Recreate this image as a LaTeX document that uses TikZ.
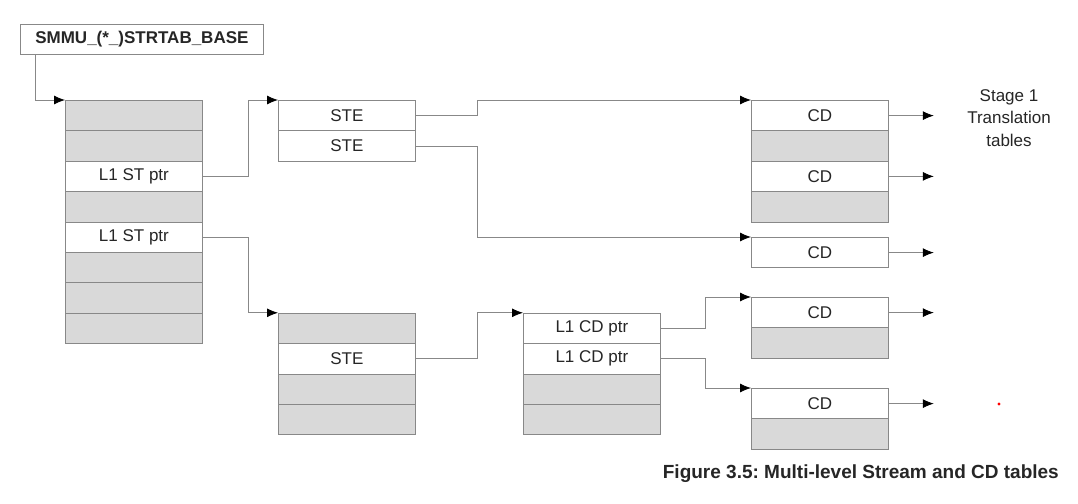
\documentclass[tikz,border=0pt]{standalone}
\usepackage{fontspec}
\setmainfont{Liberation Sans}
\usetikzlibrary{arrows.meta}
\frenchspacing
\definecolor{cellgray}{HTML}{D9D9D9}
\definecolor{edgegray}{HTML}{888888}
\definecolor{txt}{HTML}{262626}
\tikzset{
  cell/.style={draw=edgegray, line width=0.8pt, fill=white, minimum width=137pt,
    minimum height=30.4pt, inner sep=0pt, anchor=north west, text=txt,
    font=\fontsize{17}{20}\selectfont},
  gcell/.style={cell, fill=cellgray},
  link/.style={draw=edgegray, line width=0.8pt, -{Latex[length=11pt,width=9pt,color=black]}},
}
\begin{document}
\begin{tikzpicture}[x=1pt,y=-1pt]
\useasboundingbox[fill=white] (0,0) rectangle (1078,503);
% base register
\node[draw=edgegray, line width=0.8pt, minimum width=243pt, minimum height=30pt, inner sep=0pt,
  anchor=north west, text=txt, font=\bfseries\fontsize{17}{20}\selectfont] (B) at (20,24) {SMMU\_(*\_)STRTAB\_BASE};
% L1 stream table
\node[gcell] (L0) at (65,100) {};
\node[gcell] (L1) at (65,130.4) {};
\node[cell]  (L2) at (65,160.8) {L1 ST ptr};
\node[gcell] (L3) at (65,191.2) {};
\node[cell]  (L4) at (65,221.6) {L1 ST ptr};
\node[gcell] (L5) at (65,252) {};
\node[gcell] (L6) at (65,282.4) {};
\node[gcell] (L7) at (65,312.8) {};
% upper STE table
\node[cell] (S0) at (278,100) {STE};
\node[cell] (S1) at (278,130.4) {STE};
% lower STE table
\node[gcell] (T0) at (278,312.8) {};
\node[cell]  (T1) at (278,343.2) {STE};
\node[gcell] (T2) at (278,373.6) {};
\node[gcell] (T3) at (278,404) {};
% L1 CD table
\node[cell]  (C0) at (523,312.8) {L1 CD ptr};
\node[cell]  (C1) at (523,343.2) {L1 CD ptr};
\node[gcell] (C2) at (523,373.6) {};
\node[gcell] (C3) at (523,404) {};
% CD tables
\node[cell]  (D0) at (751,100) {CD};
\node[gcell] (D1) at (751,130.4) {};
\node[cell]  (D2) at (751,160.8) {CD};
\node[gcell] (D3) at (751,191.2) {};
\node[cell]  (E0) at (751,237) {CD};
\node[cell]  (F0) at (751,297) {CD};
\node[gcell] (F1) at (751,327.4) {};
\node[cell]  (G0) at (751,388) {CD};
\node[gcell] (G1) at (751,418.4) {};
% connectors
\draw[link] ([xshift=15pt]B.south west) |- (L0.north west);
\draw[link] (L2.east) -- ++(46,0) |- (S0.north west);
\draw[link] (L4.east) -- ++(46,0) |- (T0.north west);
\draw[link] (S0.east) -- ++(62,0) |- (D0.north west);
\draw[link] (S1.east) -- ++(62,0) |- (E0.north west);
\draw[link] (T1.east) -- ++(62,0) |- (C0.north west);
\draw[link] (C0.east) -- ++(45,0) |- (F0.north west);
\draw[link] (C1.east) -- ++(45,0) |- (G0.north west);
\draw[link] (D0.east) -- ++(45,0);
\draw[link] (D2.east) -- ++(45,0);
\draw[link] (E0.east) -- ++(45,0);
\draw[link] (F0.east) -- ++(45,0);
\draw[link] (G0.east) -- ++(45,0);
% labels
\node[align=center, text=txt, font=\fontsize{17}{22.5}\selectfont] (stage) at (1009,118) {Stage 1\\Translation\\tables};
\node[anchor=east, inner sep=0pt, text=txt, font=\bfseries\fontsize{19}{22}\selectfont] (cap) at (1059,474) {Figure 3.5: Multi-level Stream and CD tables};
\fill[red] (999,404) circle (1.6);
\end{tikzpicture}
\end{document}
